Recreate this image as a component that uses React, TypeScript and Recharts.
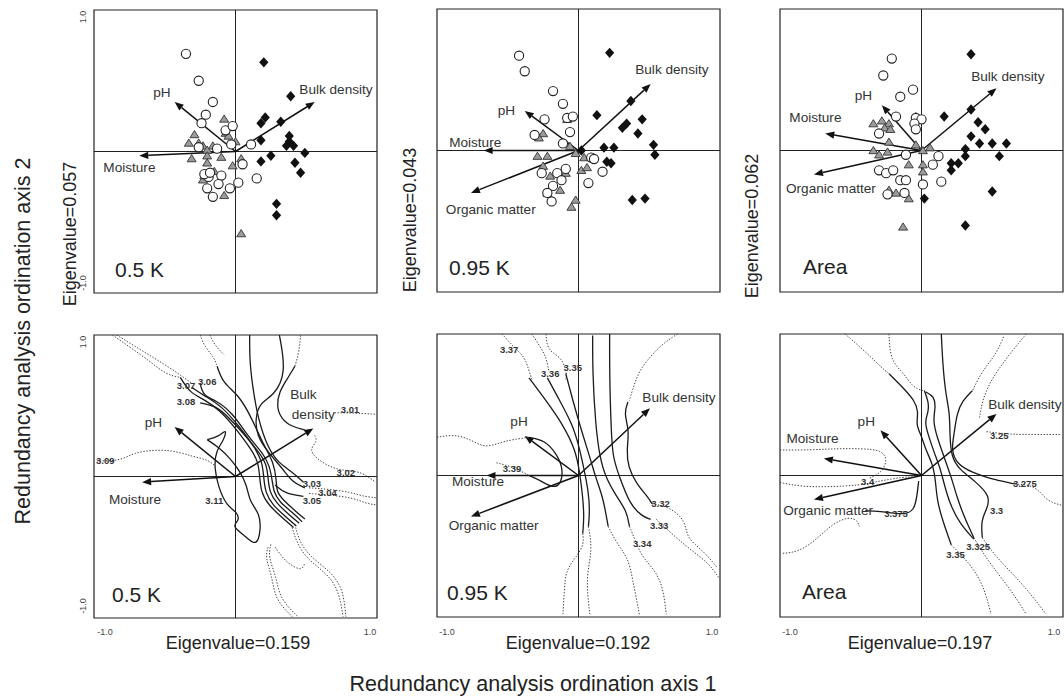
import { ScatterChart, Scatter, XAxis, YAxis, ReferenceLine, ReferenceArea } from "recharts";

type Pt = [number, number];
type Lbl = [string, number, number];

// ---- top row: sample scores ----
const tlCircles: Pt[] = [[-0.35,0.69],[-0.26,0.5],[-0.16,0.35],[-0.21,0.26],[-0.24,0.2],[-0.07,0.15],[-0.02,0.18],[-0.03,0.05],[0.11,0.05],[-0.13,0.02],[-0.26,0.03],[0.05,-0.09],[0.15,-0.19],[0.02,-0.22],[-0.04,-0.26],[-0.1,-0.17],[-0.12,-0.23],[-0.19,-0.18],[-0.2,-0.26],[-0.16,-0.32],[-0.22,-0.16],[-0.18,-0.15]];
const tlTriangles: Pt[] = [[-0.08,0.23],[-0.07,0.13],[-0.05,0.11],[0,0.07],[-0.29,0.12],[-0.33,0.06],[-0.26,0.06],[-0.23,0.04],[-0.16,0.04],[-0.2,0.01],[-0.31,-0.05],[-0.2,-0.03],[-0.2,-0.08],[-0.1,-0.04],[-0.02,-0.1],[0.04,-0.05],[-0.15,-0.14],[-0.23,-0.2],[-0.22,-0.17],[-0.08,-0.31],[0.04,-0.58]];
const tlDiamonds: Pt[] = [[0.2,0.63],[0.39,0.39],[0.21,0.24],[0.18,0.2],[0.32,0.21],[0.38,0.11],[0.18,0.08],[0.36,0.04],[0.41,0.04],[0.25,-0.03],[0.18,-0.07],[0.49,-0.01],[0.42,-0.08],[0.46,-0.15],[0.29,-0.37],[0.29,-0.45],[0.38,0.07]];

const tmCircles: Pt[] = [[-0.42,0.67],[-0.38,0.56],[-0.18,0.42],[-0.11,0.33],[-0.24,0.22],[-0.08,0.23],[-0.04,0.24],[-0.06,0.13],[-0.31,0.11],[-0.11,0.05],[0.09,-0.05],[0.11,-0.06],[0.17,-0.15],[0.07,-0.23],[-0.09,-0.13],[-0.15,-0.16],[-0.26,-0.16],[-0.12,-0.21],[-0.18,-0.25],[-0.22,-0.3],[-0.19,-0.36]];
const tmTriangles: Pt[] = [[-0.08,0.22],[-0.25,0.12],[-0.28,0.09],[-0.06,0.03],[-0.29,-0.04],[-0.22,-0.04],[-0.02,-0.02],[0.04,-0.05],[0.02,-0.14],[0.06,-0.12],[-0.25,-0.11],[-0.2,-0.18],[-0.09,-0.16],[-0.13,-0.28],[-0.22,-0.3],[-0.02,-0.35],[-0.05,-0.4]];
const tmDiamonds: Pt[] = [[0.22,0.69],[0.37,0.35],[0.13,0.25],[0.45,0.22],[0.34,0.19],[0.31,0.16],[0.42,0.12],[0.53,0.04],[0.54,-0.03],[0.18,0.02],[0.25,0.02],[0.02,0],[0.2,-0.08],[0.23,-0.09],[0.38,-0.35],[0.47,-0.34]];

const trCircles: Pt[] = [[-0.21,0.65],[-0.27,0.53],[-0.06,0.43],[-0.15,0.38],[-0.18,0.24],[-0.04,0.23],[0,0.22],[-0.05,0.19],[-0.04,0.15],[-0.3,0.12],[-0.11,-0.03],[0.12,-0.04],[0.08,-0.1],[0.14,-0.22],[0.01,-0.24],[-0.3,-0.14],[-0.25,-0.16],[-0.2,-0.14],[-0.15,-0.21],[-0.11,-0.21],[-0.12,-0.3],[-0.24,-0.31]];
const trTriangles: Pt[] = [[-0.04,0.24],[-0.34,0.19],[-0.28,0.21],[-0.23,0.19],[-0.26,0.16],[-0.22,0.15],[-0.23,0.06],[-0.04,0.04],[0.01,0],[0.06,0.02],[-0.34,0],[-0.3,-0.03],[-0.24,-0.01],[-0.09,-0.1],[0.01,-0.1],[0.01,-0.15],[-0.13,-0.21],[-0.23,-0.28],[-0.18,-0.3],[-0.09,-0.34],[-0.13,-0.54]];
const trDiamonds: Pt[] = [[0.35,0.68],[0.16,0.24],[0.35,0.29],[0.4,0.2],[0.45,0.15],[0.35,0.1],[0.41,0.05],[0.5,0.05],[0.6,0.05],[0.31,0.01],[0.31,-0.04],[0.55,-0.04],[0.21,-0.09],[0.26,-0.09],[0.21,-0.14],[0.02,-0.34],[0.5,-0.29],[0.31,-0.53]];

// ---- environmental arrows (tips) and their labels ----
const tlArrows: Lbl[] = [["pH",-0.43,0.35],["Bulk density",0.56,0.35],["Moisture",-0.68,-0.03]];
const tlArrowLabels: Lbl[] = [["pH",-0.52,0.42],["Bulk density",0.71,0.44],["Moisture",-0.75,-0.11]];
const tmArrows: Lbl[] = [["pH",-0.38,0.28],["Bulk density",0.51,0.47],["Moisture",-0.67,0],["Organic matter",-0.76,-0.3]];
const tmArrowLabels: Lbl[] = [["pH",-0.51,0.28],["Bulk density",0.66,0.57],["Moisture",-0.73,0.06],["Organic matter",-0.62,-0.42]];
const trArrows: Lbl[] = [["pH",-0.28,0.32],["Bulk density",0.53,0.44],["Moisture",-0.68,0.12],["Organic matter",-0.76,-0.17]];
const trArrowLabels: Lbl[] = [["pH",-0.41,0.39],["Bulk density",0.61,0.52],["Moisture",-0.75,0.23],["Organic matter",-0.64,-0.27]];

const blArrows: Lbl[] = [["pH",-0.43,0.35],["Bulk density",0.55,0.34],["Moisture",-0.66,-0.04]];
const blArrowLabels: Lbl[] = [["pH",-0.58,0.38],["Bulk",0.48,0.58],["density",0.55,0.44],["Moisture",-0.71,-0.16]];
const bmArrows: Lbl[] = [["pH",-0.38,0.28],["Bulk density",0.505,0.475],["Moisture",-0.65,0],["Organic matter",-0.76,-0.29]];
const bmArrowLabels: Lbl[] = [["pH",-0.42,0.38],["Bulk density",0.71,0.55],["Moisture",-0.71,-0.04],["Organic matter",-0.6,-0.35]];
const brArrows: Lbl[] = [["pH",-0.29,0.32],["Bulk density",0.53,0.435],["Moisture",-0.69,0.12],["Organic matter",-0.76,-0.17]];
const brArrowLabels: Lbl[] = [["pH",-0.39,0.38],["Bulk density",0.73,0.5],["Moisture",-0.77,0.26],["Organic matter",-0.66,-0.25]];

// ---- bottom row: contour isolines ----
const blSolid: Pt[][] = [
  [[-0.39,0.7],[-0.32,0.59],[-0.23,0.55],[-0.11,0.47],[0.01,0.33],[0.12,0.18],[0.16,0.1],[0.17,0.01],[0.18,-0.11],[0.23,-0.2],[0.34,-0.3],[0.41,-0.36]],
  [[-0.31,0.63],[-0.22,0.57],[-0.1,0.5],[0.03,0.35],[0.14,0.2],[0.19,0.1],[0.2,-0.01],[0.21,-0.11],[0.26,-0.2],[0.36,-0.29],[0.43,-0.35]],
  [[-0.25,0.52],[-0.14,0.5],[-0.05,0.42],[0.06,0.3],[0.16,0.18],[0.22,0.09],[0.23,-0.01],[0.24,-0.11],[0.29,-0.19],[0.39,-0.28],[0.45,-0.33]],
  [[-0.25,0.66],[-0.23,0.57],[-0.14,0.54],[-0.02,0.45],[0.09,0.28],[0.19,0.17],[0.24,0.08],[0.26,-0.03],[0.27,-0.11],[0.31,-0.18],[0.41,-0.26],[0.47,-0.32]],
  [[-0.13,0.78],[-0.09,0.66],[0.03,0.57],[0.12,0.4],[0.2,0.22],[0.27,0.1],[0.29,-0.03],[0.29,-0.11],[0.34,-0.17],[0.43,-0.25],[0.49,-0.3]],
  [[0.1,1],[0.1,0.82],[0.12,0.64],[0.16,0.4],[0.23,0.2],[0.3,0.1],[0.39,0.04],[0.48,-0.04]],
  [[0.31,1],[0.36,0.73],[0.27,0.57],[0.17,0.52],[0.14,0.41],[0.15,0.29],[0.23,0.17],[0.33,0.06],[0.4,-0.04],[0.49,-0.08]],
  [[0.28,-0.06],[0.35,-0.12],[0.48,-0.14]],
  [[0.42,0.78],[0.36,0.68],[0.31,0.6],[0.29,0.5],[0.32,0.41],[0.4,0.35],[0.49,0.33]],
  [[-0.2,0.26],[-0.12,0.28],[-0.06,0.34],[-0.08,0.26],[-0.14,0.18],[-0.15,0.06],[-0.12,-0.08],[-0.06,-0.21],[0.01,-0.25],[0.03,-0.31],[-0.03,-0.35],[0.07,-0.42],[0.15,-0.5],[0.18,-0.37],[0.17,-0.26],[0.1,-0.18],[0.08,-0.06],[0.03,0.04],[-0.04,0.13],[-0.11,0.2],[-0.2,0.26]],
];
const blDotted: Pt[][] = [
  [[-0.98,0.11],[-0.81,0.11],[-0.72,0.17],[-0.56,0.19],[-0.42,0.18],[-0.3,0.14],[-0.2,0.12],[-0.15,0.08]],
  [[-0.87,1],[-0.74,0.91],[-0.6,0.81],[-0.49,0.72],[-0.39,0.7]],
  [[-0.84,1],[-0.71,0.92],[-0.58,0.84],[-0.45,0.76],[-0.31,0.66]],
  [[-0.25,1],[-0.22,0.92],[-0.15,0.84],[-0.13,0.78]],
  [[-0.18,1],[-0.15,0.93],[-0.08,0.86]],
  [[0.42,0.78],[0.45,0.88],[0.46,1]],
  [[0.7,0.45],[0.83,0.45],[0.99,0.44]],
  [[0.56,0.29],[0.58,0.25],[0.52,0.19],[0.57,0.13],[0.66,0.07],[0.76,0.04],[0.88,0.04],[0.99,-0.04]],
  [[0.52,-0.08],[0.66,-0.09],[0.81,-0.11],[0.9,-0.14],[0.99,-0.15]],
  [[0.52,-0.12],[0.66,-0.13],[0.83,-0.15],[0.92,-0.19],[0.99,-0.2]],
  [[0.4,-0.36],[0.43,-0.46],[0.5,-0.58],[0.64,-0.68],[0.73,-0.8],[0.76,-0.99]],
  [[0.42,-0.34],[0.45,-0.46],[0.53,-0.57],[0.67,-0.67],[0.76,-0.79],[0.78,-0.99]],
  [[0.23,-0.5],[0.21,-0.57],[0.26,-0.71],[0.28,-0.87],[0.4,-0.99]],
  [[0.25,-0.48],[0.23,-0.57],[0.29,-0.71],[0.31,-0.86],[0.44,-0.99]],
  [[0.28,-0.5],[0.33,-0.57],[0.38,-0.62],[0.47,-0.67],[0.49,-0.61]],
];
const blContourLabels: Lbl[] = [["3.07",-0.35,0.64],["3.06",-0.2,0.67],["3.08",-0.35,0.53],["3.09",-0.92,0.11],["3.01",0.81,0.47],["3.02",0.78,0.03],["3.03",0.54,-0.05],["3.04",0.65,-0.11],["3.05",0.54,-0.17],["3.11",-0.15,-0.17]];

const bmSolid: Pt[][] = [
  [[-0.35,0.69],[-0.23,0.53],[-0.11,0.36],[-0.02,0.18],[0.01,0.01],[0.03,-0.15],[0.04,-0.29],[0.03,-0.41]],
  [[-0.22,0.69],[-0.15,0.56],[-0.04,0.36],[0.01,0.18],[0.04,0.04],[0.07,-0.11],[0.08,-0.25],[0.07,-0.36]],
  [[-0.09,0.72],[-0.04,0.53],[0.02,0.32],[0.08,0.13],[0.12,-0.01],[0.17,-0.15],[0.19,-0.25],[0.21,-0.36]],
  [[0.1,0.99],[0.1,0.72],[0.12,0.36],[0.15,0.13],[0.19,-0.01],[0.27,-0.15],[0.34,-0.25],[0.36,-0.36]],
  [[0.22,1],[0.22,0.67],[0.23,0.36],[0.24,0.13],[0.29,-0.01],[0.36,-0.2],[0.45,-0.29],[0.51,-0.31]],
  [[0.35,0.52],[0.32,0.44],[0.36,0.32],[0.34,0.18],[0.35,0.06],[0.41,-0.06],[0.49,-0.15],[0.52,-0.2]],
  [[-0.35,0.27],[-0.24,0.25],[-0.16,0.16],[-0.11,0.06],[-0.12,-0.06],[-0.18,-0.09],[-0.26,-0.04],[-0.35,0]],
];
const bmDotted: Pt[][] = [
  [[-0.54,1],[-0.46,0.91],[-0.38,0.84],[-0.35,0.74],[-0.33,0.68]],
  [[-0.33,1],[-0.27,0.91],[-0.23,0.84],[-0.21,0.74]],
  [[-0.23,1],[-0.22,0.88],[-0.12,0.84],[-0.08,0.72],[-0.09,0.68]],
  [[0.7,1],[0.59,0.93],[0.48,0.81],[0.42,0.72],[0.38,0.6],[0.36,0.53]],
  [[-1,0.27],[-0.88,0.29],[-0.77,0.26],[-0.66,0.19],[-0.54,0.24],[-0.42,0.26],[-0.35,0.27]],
  [[-0.58,0.09],[-0.46,0.06],[-0.35,0]],
  [[0.03,-0.41],[0.04,-0.49],[-0.02,-0.58],[-0.09,-0.67],[-0.1,-0.81],[-0.11,-0.98]],
  [[0.07,-0.36],[0.1,-0.53],[0.05,-0.72],[0.08,-0.98]],
  [[0.21,-0.36],[0.27,-0.48],[0.35,-0.58],[0.38,-0.72],[0.43,-0.98]],
  [[0.36,-0.36],[0.41,-0.48],[0.45,-0.58],[0.59,-0.72],[0.62,-0.98]],
  [[0.52,-0.2],[0.64,-0.22],[0.76,-0.32],[0.76,-0.44],[0.88,-0.53],[0.98,-0.65]],
  [[0.55,-0.31],[0.69,-0.44],[0.8,-0.53],[0.92,-0.62],[0.99,-0.72]],
];
const bmContourLabels: Lbl[] = [["3.37",-0.49,0.89],["3.36",-0.2,0.72],["3.35",-0.04,0.76],["3.39",-0.47,0.05],["3.32",0.58,-0.2],["3.33",0.57,-0.35],["3.34",0.45,-0.48]];

const brSolid: Pt[][] = [
  [[-0.23,0.72],[-0.12,0.61],[-0.05,0.53],[-0.02,0.45],[-0.04,0.36],[0,0.28],[0.03,0.18],[0.08,0.08],[0.1,-0.04],[0.11,-0.18],[0.15,-0.32],[0.21,-0.49]],
  [[0.02,0.6],[0.05,0.52],[0.05,0.45],[0.02,0.38],[0.05,0.28],[0.09,0.16],[0.13,0.06],[0.16,-0.06],[0.2,-0.2],[0.27,-0.34],[0.37,-0.45]],
  [[0.03,0.59],[0.09,0.56],[0.1,0.48],[0.08,0.39],[0.11,0.27],[0.16,0.13],[0.21,-0.01],[0.25,-0.15],[0.3,-0.29],[0.37,-0.44]],
  [[0.14,1],[0.15,0.79],[0.17,0.58],[0.2,0.44],[0.2,0.29],[0.21,0.13],[0.27,0.04],[0.38,-0.04],[0.49,-0.15],[0.46,-0.24],[0.42,-0.32],[0.43,-0.44]],
  [[0.36,0.6],[0.29,0.53],[0.25,0.44],[0.23,0.29],[0.21,0.18],[0.25,0.08],[0.36,0.02],[0.48,-0.02],[0.57,-0.04],[0.66,-0.06]],
  [[-0.4,-0.25],[-0.3,-0.25],[-0.13,-0.28],[-0.05,-0.25],[-0.03,-0.13],[-0.02,-0.04]],
];
const brDotted: Pt[][] = [
  [[-1,0.18],[-0.79,0.18],[-0.61,0.19],[-0.42,0.19],[-0.28,0.18],[-0.24,0.11],[-0.28,0.02],[-0.37,-0.02]],
  [[-1,-0.05],[-0.84,-0.08],[-0.65,-0.08],[-0.44,-0.07],[-0.3,-0.04],[-0.13,-0.01],[-0.04,-0.01]],
  [[-0.98,-0.55],[-0.87,-0.54],[-0.75,-0.46],[-0.63,-0.34],[-0.51,-0.29],[-0.45,-0.32],[-0.44,-0.36]],
  [[-0.54,1],[-0.39,0.87],[-0.28,0.76],[-0.23,0.72]],
  [[-0.23,1],[-0.22,0.81],[-0.13,0.73],[-0.06,0.62],[0.01,0.6]],
  [[0.74,1],[0.64,0.88],[0.55,0.76],[0.48,0.65],[0.43,0.53],[0.41,0.41]],
  [[0.58,0.98],[0.53,0.86],[0.43,0.74],[0.37,0.62],[0.36,0.6]],
  [[0.46,0.31],[0.62,0.29],[0.81,0.29],[0.99,0.29]],
  [[0.66,-0.06],[0.81,-0.07],[0.88,-0.18],[0.99,-0.21]],
  [[0.43,-0.44],[0.53,-0.58],[0.67,-0.72],[0.79,-0.86],[0.88,-0.98]],
  [[0.37,-0.44],[0.48,-0.62],[0.62,-0.79],[0.74,-0.98]],
  [[0.21,-0.49],[0.34,-0.62],[0.43,-0.76],[0.48,-0.93],[0.49,-0.98]],
];
const brContourLabels: Lbl[] = [["3.25",0.55,0.28],["3.275",0.73,-0.06],["3.3",0.53,-0.25],["3.325",0.4,-0.5],["3.35",0.24,-0.56],["3.4",-0.38,-0.04],["3.375",-0.18,-0.27]];

const FONT = '"Liberation Sans", Arial, Helvetica, sans-serif';
const INK = "#222";
const SIZE = 283;
const PAD = 2;

const toPts = (a: Pt[]) => a.map(([x, y]) => ({ x, y }));
const toLbl = (a: Lbl[]) => a.map(([t, x, y]) => ({ t, x, y }));
const noDot = () => <g />;

const OpenCircle = (p: any) => (
  <circle cx={p.cx} cy={p.cy} r={4.6} fill="#fff" stroke={INK} strokeWidth={1.1} />
);
const GrayTriangle = (p: any) => (
  <polygon
    points={`${p.cx},${p.cy - 4} ${p.cx + 4.5},${p.cy + 3.2} ${p.cx - 4.5},${p.cy + 3.2}`}
    fill="#9b9b9b"
    stroke="#333"
    strokeWidth={0.9}
  />
);
const BlackDiamond = (p: any) => (
  <polygon
    points={`${p.cx},${p.cy - 5.2} ${p.cx + 4.6},${p.cy} ${p.cx},${p.cy + 5.2} ${p.cx - 4.6},${p.cy}`}
    fill="#111"
  />
);
const VarLabel = (p: any) => (
  <text x={p.cx} y={p.cy} textAnchor="middle" dominantBaseline="central" fontSize={13.6} fill="#333" fontFamily={FONT}>
    {p.payload.t}
  </text>
);
const IsoLabel = (p: any) => (
  <text x={p.cx} y={p.cy} textAnchor="middle" dominantBaseline="central" fontSize={9.5} fontWeight={700} fill="#333" fontFamily={FONT}>
    {p.payload.t}
  </text>
);

function Arrow(p: any) {
  const { x1, y1, x2, y2 } = p;
  const a = Math.atan2(y2 - y1, x2 - x1);
  const bx = x2 - 9 * Math.cos(a);
  const by = y2 - 9 * Math.sin(a);
  const nx = -Math.sin(a) * 3.6;
  const ny = Math.cos(a) * 3.6;
  return (
    <g>
      <line x1={x1} y1={y1} x2={bx} y2={by} stroke="#111" strokeWidth={1.5} />
      <polygon points={`${x2},${y2} ${bx + nx},${by + ny} ${bx - nx},${by - ny}`} fill="#111" />
    </g>
  );
}

function Panel({
  left,
  top,
  circles,
  triangles,
  diamonds,
  arrows,
  arrowLabels,
  solid,
  dotted,
  isoLabels,
}: {
  left: number;
  top: number;
  circles?: Pt[];
  triangles?: Pt[];
  diamonds?: Pt[];
  arrows: Lbl[];
  arrowLabels: Lbl[];
  solid?: Pt[][];
  dotted?: Pt[][];
  isoLabels?: Lbl[];
}) {
  return (
    <div style={{ position: "absolute", left: left - PAD, top: top - PAD }}>
      <ScatterChart
        width={SIZE + 2 * PAD}
        height={SIZE + 2 * PAD}
        margin={{ top: PAD, right: PAD, bottom: PAD, left: PAD }}
      >
        <XAxis type="number" dataKey="x" domain={[-1, 1]} hide allowDataOverflow />
        <YAxis type="number" dataKey="y" domain={[-1, 1]} hide allowDataOverflow />
        <ReferenceArea x1={-1} x2={1} y1={-1} y2={1} fill="none" stroke={INK} strokeWidth={1.2} ifOverflow="visible" />
        <ReferenceLine x={0} stroke={INK} strokeWidth={1} />
        <ReferenceLine y={0} stroke={INK} strokeWidth={1} />
        {(dotted ?? []).map((d, i) => (
          <Scatter
            key={`d${i}`}
            data={toPts(d)}
            fill="none"
            line={{ stroke: "#444", strokeWidth: 1, strokeDasharray: "1.4 1.6" }}
            lineJointType="basis"
            shape={noDot}
            isAnimationActive={false}
          />
        ))}
        {(solid ?? []).map((d, i) => (
          <Scatter
            key={`s${i}`}
            data={toPts(d)}
            fill="none"
            line={{ stroke: "#1a1a1a", strokeWidth: 1.3 }}
            lineJointType="basis"
            shape={noDot}
            isAnimationActive={false}
          />
        ))}
        {triangles && <Scatter data={toPts(triangles)} shape={GrayTriangle} isAnimationActive={false} />}
        {circles && <Scatter data={toPts(circles)} shape={OpenCircle} isAnimationActive={false} />}
        {diamonds && <Scatter data={toPts(diamonds)} shape={BlackDiamond} isAnimationActive={false} />}
        {arrows.map(([n, x, y]) => (
          <ReferenceLine key={n} segment={[{ x: 0, y: 0 }, { x, y }]} shape={Arrow} ifOverflow="visible" />
        ))}
        {isoLabels && <Scatter data={toLbl(isoLabels)} shape={IsoLabel} isAnimationActive={false} />}
        <Scatter data={toLbl(arrowLabels)} shape={VarLabel} isAnimationActive={false} />
      </ScatterChart>
    </div>
  );
}

export default function App() {
  const tick = { fontSize: 9, fill: "#444", fontFamily: FONT };
  const eig = { fontSize: 18, fill: "#222", fontFamily: FONT, textAnchor: "middle" as const };
  const tag = { fontSize: 21, fill: "#222", fontFamily: FONT };
  return (
    <div style={{ position: "absolute", left: 0, top: 0, width: 1064, height: 698, background: "#fff", overflow: "hidden" }}>
      <Panel left={94} top={10} circles={tlCircles} triangles={tlTriangles} diamonds={tlDiamonds} arrows={tlArrows} arrowLabels={tlArrowLabels} />
      <Panel left={437} top={9} circles={tmCircles} triangles={tmTriangles} diamonds={tmDiamonds} arrows={tmArrows} arrowLabels={tmArrowLabels} />
      <Panel left={780} top={9} circles={trCircles} triangles={trTriangles} diamonds={trDiamonds} arrows={trArrows} arrowLabels={trArrowLabels} />
      <Panel left={94} top={335} solid={blSolid} dotted={blDotted} isoLabels={blContourLabels} arrows={blArrows} arrowLabels={blArrowLabels} />
      <Panel left={437} top={334} solid={bmSolid} dotted={bmDotted} isoLabels={bmContourLabels} arrows={bmArrows} arrowLabels={bmArrowLabels} />
      <Panel left={780} top={334} solid={brSolid} dotted={brDotted} isoLabels={brContourLabels} arrows={brArrows} arrowLabels={brArrowLabels} />
      <svg width={1064} height={698} style={{ position: "absolute", left: 0, top: 0, pointerEvents: "none" }}>
        <text {...tag} x={115} y={277}>0.5 K</text>
        <text {...tag} x={449} y={275}>0.95 K</text>
        <text {...tag} x={803} y={274}>Area</text>
        <text {...tag} x={112} y={602}>0.5 K</text>
        <text {...tag} x={447} y={600}>0.95 K</text>
        <text {...tag} x={802} y={599}>Area</text>

        <text {...tick} textAnchor="middle" transform="translate(86,17) rotate(-90)">1.0</text>
        <text {...tick} textAnchor="middle" transform="translate(86,283) rotate(-90)">-1.0</text>
        <text {...tick} textAnchor="middle" transform="translate(86,342) rotate(-90)">1.0</text>
        <text {...tick} textAnchor="middle" transform="translate(86,606) rotate(-90)">-1.0</text>

        <text {...tick} textAnchor="middle" x={105} y={635}>-1.0</text>
        <text {...tick} textAnchor="middle" x={370} y={635}>1.0</text>
        <text {...tick} textAnchor="middle" x={447} y={635}>-1.0</text>
        <text {...tick} textAnchor="middle" x={712} y={635}>1.0</text>
        <text {...tick} textAnchor="middle" x={790} y={635}>-1.0</text>
        <text {...tick} textAnchor="middle" x={1054} y={635}>1.0</text>

        <text {...eig} x={238} y={649}>Eigenvalue=0.159</text>
        <text {...eig} x={578} y={649}>Eigenvalue=0.192</text>
        <text {...eig} x={920} y={649}>Eigenvalue=0.197</text>
        <text {...eig} transform="translate(76,234) rotate(-90)">Eigenvalue=0.057</text>
        <text {...eig} transform="translate(416,220) rotate(-90)">Eigenvalue=0.043</text>
        <text {...eig} transform="translate(758,226) rotate(-90)">Eigenvalue=0.062</text>

        <text fontSize={21.5} fill="#222" fontFamily={FONT} textAnchor="middle" x={533} y={691}>
          Redundancy analysis ordination axis 1
        </text>
        <text fontSize={21.5} fill="#222" fontFamily={FONT} textAnchor="middle" transform="translate(30,341) rotate(-90)">
          Redundancy analysis ordination axis 2
        </text>
      </svg>
    </div>
  );
}
